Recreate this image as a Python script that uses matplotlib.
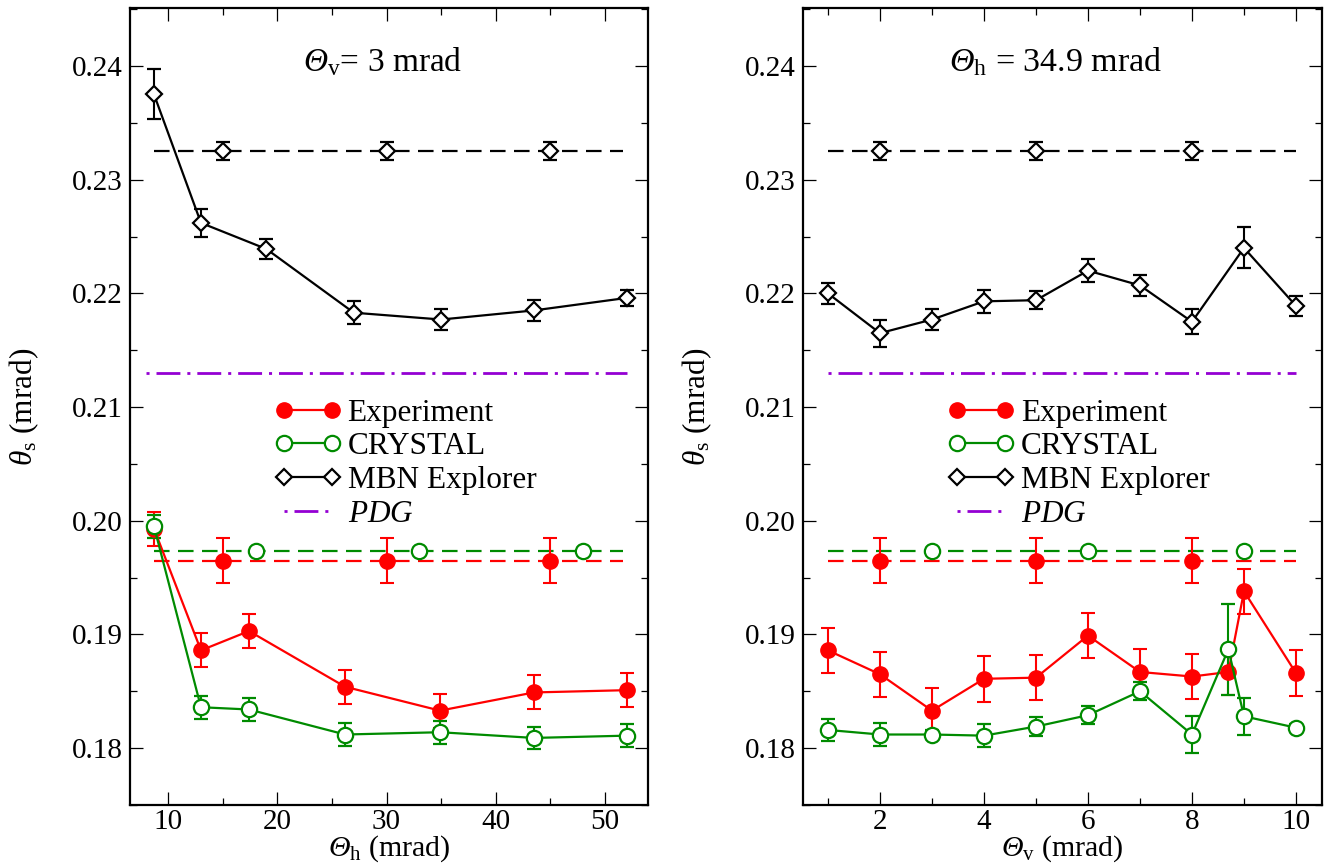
import matplotlib
matplotlib.use('Agg')
import matplotlib.pyplot as plt
from matplotlib.lines import Line2D
from matplotlib.legend_handler import HandlerLine2D
from matplotlib.ticker import MultipleLocator, FormatStrFormatter

plt.rcParams['font.family'] = ['Liberation Serif', 'DejaVu Serif']
plt.rcParams['mathtext.fontset'] = 'custom'
plt.rcParams['mathtext.rm'] = 'Liberation Serif'
plt.rcParams['mathtext.it'] = 'Liberation Serif:italic'
plt.rcParams['mathtext.sf'] = 'Liberation Serif:italic'   # italic capital Greek
plt.rcParams['mathtext.bf'] = 'Liberation Serif:bold'

RED = '#ff0000'
GREEN = '#008b00'
VIOLET = '#9400d3'

# --- scan over Theta_h at Theta_v = 3 mrad ---
h_exp = [8.7, 13.0, 17.4, 26.2, 34.9, 43.5, 52.0]
h_exp_val = [0.1993, 0.1886, 0.1903, 0.1854, 0.1833, 0.1849, 0.1851]
h_exp_err = [0.0015, 0.0015, 0.0015, 0.0015, 0.0015, 0.0015, 0.0015]
h_cry_val = [0.1995, 0.1836, 0.1834, 0.1812, 0.1814, 0.1809, 0.1811]
h_cry_err = [0.0010, 0.0010, 0.0010, 0.0010, 0.0010, 0.0010, 0.0010]
h_mbn = [8.7, 13.0, 19.0, 27.0, 35.0, 43.5, 52.0]
h_mbn_val = [0.2375, 0.2262, 0.2239, 0.2183, 0.2177, 0.2185, 0.2196]
h_mbn_err = [0.0022, 0.0012, 0.0009, 0.0010, 0.0009, 0.0009, 0.0007]
h_exp_mark = [15, 30, 45]
h_cry_mark = [18, 33, 48]

# --- scan over Theta_v at Theta_h = 34.9 mrad ---
v_exp = [1, 2, 3, 4, 5, 6, 7, 8, 8.7, 9, 10]
v_exp_val = [0.1886, 0.1865, 0.1833, 0.1861, 0.1862, 0.1899, 0.1867, 0.1863, 0.1867, 0.1938, 0.1866]
v_exp_err = [0.0020, 0.0020, 0.0020, 0.0020, 0.0020, 0.0020, 0.0020, 0.0020, 0.0020, 0.0020, 0.0020]
v_cry_val = [0.1816, 0.1812, 0.1812, 0.1811, 0.1819, 0.1829, 0.1850, 0.1812, 0.1887, 0.1828, 0.1818]
v_cry_err = [0.0010, 0.0010, 0.0004, 0.0010, 0.0008, 0.0008, 0.0008, 0.0016, 0.0040, 0.0016, 0.0003]
v_mbn = [1, 2, 3, 4, 5, 6, 7, 8, 9, 10]
v_mbn_val = [0.2200, 0.2165, 0.2177, 0.2193, 0.2194, 0.2220, 0.2207, 0.2175, 0.2240, 0.2189]
v_mbn_err = [0.0009, 0.0012, 0.0009, 0.0010, 0.0008, 0.0010, 0.0009, 0.0011, 0.0018, 0.0009]
v_exp_mark = [2, 5, 8]
v_cry_mark = [3, 6, 9]

# averaged values (dashed) and PDG estimate
exp_avg, exp_avg_err = 0.1965, 0.0020
cry_avg = 0.1973
mbn_avg, mbn_avg_err = 0.2325, 0.0008
pdg = 0.2130

DASH = (0, (7, 3.8))
DASHDOT = (11.1, (8.6, 2.5, 1.1, 2.5))

eb = dict(capsize=4.8, elinewidth=1.5, capthick=1.5, lw=1.6)


def panel(ax, x_exp, exp_val, exp_err, cry_val, cry_err, x_mbn, mbn_val, mbn_err,
          exp_mark, cry_mark, span, pdg_span):
    # flat reference levels
    ax.plot(pdg_span, [pdg, pdg], color=VIOLET, lw=2.0, ls=DASHDOT)
    ax.plot(span, [mbn_avg, mbn_avg], color='k', lw=1.6, ls=DASH)
    ax.plot(span, [exp_avg, exp_avg], color=RED, lw=1.6, ls=DASH)
    ax.plot(span, [cry_avg, cry_avg], color=GREEN, lw=1.6, ls=DASH)
    ax.errorbar(exp_mark, [mbn_avg] * 3, yerr=mbn_avg_err, fmt='D', color='k',
                mfc='white', ms=8.5, mew=1.6, **eb)
    ax.errorbar(exp_mark, [exp_avg] * 3, yerr=exp_avg_err, fmt='o', color=RED,
                ms=11, **eb)
    ax.plot(cry_mark, [cry_avg] * 3, 'o', color=GREEN, mfc='white', ms=11, mew=1.6)

    # simulations and measurement
    ax.errorbar(x_mbn, mbn_val, yerr=mbn_err, fmt='-D', color='k', mfc='white',
                ms=8.5, mew=1.6, **eb)
    ax.errorbar(x_exp, exp_val, yerr=exp_err, fmt='-o', color=RED, ms=11, **eb)
    ax.errorbar(x_exp, cry_val, yerr=cry_err, fmt='-o', color=GREEN, mfc='white',
                ms=11, mew=1.6, **eb)

    ax.set_ylim(0.175, 0.2451)
    ax.yaxis.set_major_locator(MultipleLocator(0.01))
    ax.yaxis.set_minor_locator(MultipleLocator(0.005))
    ax.yaxis.set_major_formatter(FormatStrFormatter('%.2f'))
    ax.tick_params(which='both', direction='in', top=True, right=True,
                   labelsize=21, width=0.9)
    ax.tick_params(which='major', length=9.6)
    ax.tick_params(which='minor', length=4.8)
    ax.tick_params(axis='y', pad=5)
    ax.tick_params(axis='x', pad=3)
    for s in ax.spines.values():
        s.set_linewidth(1.6)
    ax.set_ylabel(r'$\theta_\mathrm{s}$ (mrad)', fontsize=22.5, labelpad=22)

    handles = [
        Line2D([], [], color=RED, lw=1.6, marker='o', ms=11),
        Line2D([], [], color=GREEN, lw=1.6, marker='o', ms=11, mfc='white', mew=1.6),
        Line2D([], [], color='k', lw=1.6, marker='D', ms=8.5, mfc='white', mew=1.6),
        Line2D([], [], color=VIOLET, lw=2.0, ls=DASHDOT),
    ]
    labels = ['Experiment', 'CRYSTAL', 'MBN Explorer', r'$PDG$']
    ax.legend(handles, labels, loc='upper left', bbox_to_anchor=(0.297, 0.51),
              frameon=False, fontsize=22.5, numpoints=2, handlelength=1.54,
              handletextpad=0.5, labelspacing=0.15, borderpad=0, borderaxespad=0,
              handler_map={Line2D: HandlerLine2D(marker_pad=0)})


fig = plt.figure(figsize=(13.25, 8.67), dpi=100)
ax1 = fig.add_axes([130 / 1325, 62 / 867, 518 / 1325, 797 / 867])
ax2 = fig.add_axes([803 / 1325, 62 / 867, 519 / 1325, 797 / 867])

panel(ax1, h_exp, h_exp_val, h_exp_err, h_cry_val, h_cry_err, h_mbn, h_mbn_val,
      h_mbn_err, h_exp_mark, h_cry_mark, [8.7, 51.7], [8.0, 52.0])
ax1.set_xlim(6.5, 53.95)
ax1.xaxis.set_major_locator(MultipleLocator(10))
ax1.xaxis.set_minor_locator(MultipleLocator(5))
ax1.set_xlabel(r'$\mathsf{\Theta}_\mathrm{h}$ (mrad)', fontsize=21.5, labelpad=-1)
ax1.text(0.488, 0.932, r'$\mathsf{\Theta}_\mathrm{v}$= 3 mrad', transform=ax1.transAxes,
         fontsize=24, ha='center', va='center')

panel(ax2, v_exp, v_exp_val, v_exp_err, v_cry_val, v_cry_err, v_mbn, v_mbn_val,
      v_mbn_err, v_exp_mark, v_cry_mark, [1.0, 10.0], [1.0, 10.0])
ax2.set_xlim(0.52, 10.5)
ax2.xaxis.set_major_locator(MultipleLocator(2))
ax2.xaxis.set_minor_locator(MultipleLocator(1))
ax2.set_xlabel(r'$\mathsf{\Theta}_\mathrm{v}$ (mrad)', fontsize=21.5, labelpad=-1)
ax2.text(0.4875, 0.932, r'$\mathsf{\Theta}_\mathrm{h}$ = 34.9 mrad', transform=ax2.transAxes,
         fontsize=24.5, ha='center', va='center')

fig.savefig('out.png', dpi=100)
